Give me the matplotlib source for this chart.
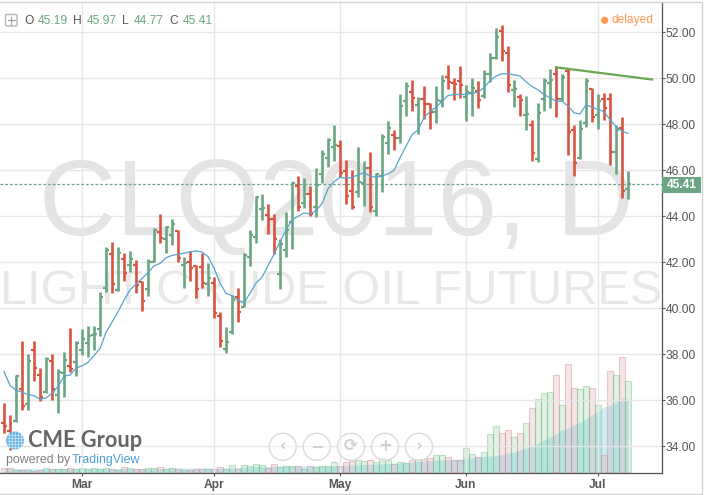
import matplotlib
matplotlib.use('Agg')
import matplotlib.pyplot as plt
from matplotlib.patches import Circle, FancyBboxPatch, Rectangle

plt.rcParams['font.family'] = ['Liberation Sans', 'DejaVu Sans']

# daily bars, CLQ2016
opens = [35.0, 34.65, 35.1, 36.5, 35.85, 38.2, 37.1, 36.35, 37.7, 36.25,
         37.2, 37.5, 37.65, 38.2, 38.5, 38.85, 39.1, 40.9, 42.35, 40.8,
         42.15, 41.9, 41.9, 41.15, 40.85, 42.0, 43.3, 43.0, 43.2, 43.35,
         41.9, 42.0, 41.85, 41.8, 41.05, 41.1, 39.65, 38.25, 38.95, 40.5,
         40.05, 42.25, 43.1, 44.3, 44.05, 43.9, 41.5, 42.55, 43.75, 45.3,
         44.6, 44.95, 44.4, 45.85, 46.55, 47.0, 47.05, 45.95, 45.1, 45.05,
         45.45, 46.1, 44.25, 45.75, 47.2, 47.55, 47.4, 49.0, 49.4, 48.85,
         49.1, 48.9, 48.55, 49.0, 50.05, 49.8, 49.9, 49.2, 49.35, 49.45,
         49.25, 50.2, 50.9, 52.05, 51.1, 49.5, 49.2, 48.4, 47.95, 46.5,
         49.1, 49.8, 50.2, 49.1, 50.3, 47.75, 46.55, 48.05, 49.55, 48.4,
         49.1, 49.1, 46.8, 47.85, 45.19]
highs = [35.87, 35.35, 37.1, 38.6, 38.0, 38.6, 37.4, 37.9, 38.0, 37.35,
         38.1, 39.15, 38.6, 39.1, 39.25, 39.25, 40.7, 42.65, 42.9, 42.65,
         42.4, 42.5, 42.1, 41.2, 42.15, 43.5, 44.1, 43.6, 43.9, 43.4,
         42.25, 42.5, 41.9, 42.4, 41.95, 41.35, 39.85, 39.2, 40.6, 40.9,
         42.4, 43.4, 44.9, 44.95, 44.55, 44.1, 43.0, 44.2, 45.5, 45.75,
         45.65, 45.3, 46.1, 46.9, 47.4, 47.95, 47.3, 46.45, 46.0, 47.0,
         46.4, 46.8, 45.9, 47.6, 48.15, 47.75, 49.3, 49.85, 49.95, 49.2,
         49.65, 48.95, 49.65, 50.15, 50.6, 50.0, 50.55, 49.7, 50.0, 49.9,
         50.35, 51.1, 52.2, 52.3, 51.4, 49.95, 49.3, 49.25, 48.2, 48.95,
         50.0, 50.4, 50.55, 50.2, 50.45, 47.95, 48.2, 50.0, 49.6, 49.3,
         49.35, 49.35, 47.95, 48.3, 45.97]
lows = [34.6, 33.85, 35.05, 35.6, 35.6, 36.85, 35.95, 36.3, 36.0, 35.45,
        36.15, 37.25, 37.05, 37.95, 37.9, 38.2, 38.8, 40.7, 40.65, 40.75,
        41.2, 41.6, 40.65, 39.9, 40.55, 42.0, 42.85, 42.4, 42.75, 42.0,
        40.9, 41.2, 40.45, 40.9, 40.55, 39.6, 38.3, 38.05, 38.9, 39.4,
        40.05, 41.85, 42.85, 43.85, 43.25, 42.35, 40.85, 42.25, 42.6, 44.25,
        44.35, 44.0, 43.95, 45.45, 46.15, 46.4, 45.7, 44.55, 44.3, 44.85,
        44.45, 44.2, 44.0, 45.05, 46.7, 46.9, 47.2, 48.35, 48.6, 47.6,
        48.25, 47.8, 48.05, 48.75, 49.55, 49.05, 49.15, 48.15, 48.35, 48.7,
        49.15, 49.85, 50.85, 50.75, 49.4, 48.75, 48.35, 47.75, 46.4, 46.35,
        48.6, 48.7, 48.3, 49.0, 46.65, 45.75, 46.5, 47.9, 48.1, 47.8,
        48.2, 46.25, 45.85, 44.8, 44.77]
closes = [34.9, 34.05, 37.05, 35.75, 37.7, 37.4, 36.15, 37.8, 36.5, 37.25,
          37.75, 37.35, 38.5, 38.65, 38.8, 38.9, 40.5, 42.55, 41.05, 42.4,
          41.55, 42.15, 41.0, 40.3, 42.0, 43.4, 43.05, 43.55, 43.65, 42.2,
          41.95, 41.75, 40.85, 41.1, 41.3, 39.8, 38.6, 38.55, 40.35, 39.85,
          42.3, 43.2, 44.85, 44.35, 43.9, 43.0, 42.8, 43.4, 45.45, 44.4,
          44.95, 44.1, 45.35, 46.7, 47.3, 47.1, 45.9, 44.9, 44.4, 45.5,
          46.1, 44.4, 45.85, 47.45, 47.85, 47.4, 48.8, 49.65, 49.15, 49.1,
          48.9, 48.55, 49.05, 49.9, 49.85, 49.75, 49.7, 49.4, 49.6, 49.05,
          50.2, 50.9, 51.8, 51.2, 49.7, 49.55, 49.05, 48.45, 46.75, 48.5,
          49.9, 49.95, 49.1, 50.05, 47.65, 46.3, 47.8, 49.9, 48.3, 49.0,
          48.7, 46.8, 47.75, 45.1, 45.41]
ma_line = [37.25, 36.65, 36.45, 36.35, 36.25, 36.2, 36.05, 36.1, 36.3, 36.6,
           37.05, 37.1, 37.4, 37.5, 37.65, 37.95, 38.25, 38.95, 39.4, 39.85,
           40.35, 40.8, 41.05, 41.3, 41.55, 41.85, 41.95, 42.2, 42.3, 42.35,
           42.4, 42.45, 42.5, 42.45, 42.25, 41.75, 41.1, 40.65, 40.55, 40.35,
           40.25, 40.65, 41.1, 41.35, 41.85, 42.35, 42.9, 43.4, 43.85, 44.0,
           44.15, 44.1, 44.25, 44.55, 45.2, 45.5, 45.7, 45.65, 45.7, 45.8,
           45.9, 45.75, 45.7, 45.75, 45.85, 46.0, 46.55, 47.05, 47.55, 47.75,
           48.3, 48.55, 48.75, 49.0, 49.25, 49.3, 49.3, 49.3, 49.35, 49.4,
           49.6, 49.9, 50.1, 50.2, 50.2, 50.15, 50.1, 49.85, 49.65, 49.5,
           49.3, 49.15, 49.0, 49.0, 48.8, 48.5, 48.45, 48.85, 48.75, 48.65,
           48.55, 48.2, 47.9, 47.7, 47.6]
volume = [4.5, 4, 2.5, 2.5, 2.5, 1.5, 2.5, 4.5, 3, 3,
          3, 4.5, 3, 4.5, 3, 4.5, 3, 4.5, 3, 2.5,
          5.5, 4.5, 3, 3, 4.5, 4.5, 5.5, 3, 4.5, 3,
          2.5, 2, 3, 3, 3, 3, 5.5, 3.5, 7, 3.5,
          7.5, 6, 8.5, 7, 4.5, 8.5, 5.5, 6, 6.5, 6.5,
          3.5, 6.5, 5.5, 6.5, 6.5, 10.5, 6, 10.5, 11, 12.5,
          11.5, 12.5, 10.5, 14.5, 12.5, 8.5, 10.5, 9.5, 12.5, 13.5,
          13.5, 14.5, 17.5, 17.5, 15.5, 12.5, 12.5, 24.5, 18.5, 15.5,
          20.5, 38.5, 46.5, 39.5, 42.5, 35.5, 39.5, 49.5, 64.5, 73.5,
          79.5, 80.5, 97.5, 67.5, 108.5, 84.5, 83.5, 86.5, 84.5, 67.5,
          17.5, 101.5, 97.5, 115.5, 91.5]
volume_ma = [3.5, 3.5, 3.5, 3.5, 3.5, 3.5, 3.5, 3.5, 3.5, 3.5,
             3.5, 3.5, 3.5, 3.5, 3.5, 3.5, 3.5, 3.5, 3.5, 3.5,
             3.5, 3.5, 3.5, 3.5, 3.5, 3.5, 3.5, 4, 4, 4,
             4, 4, 4, 4, 4, 4, 4, 4, 4, 4.5,
             5, 5, 5.5, 5.5, 5.5, 5.5, 6, 6, 6, 6,
             6, 6, 6, 6, 6, 6, 6.5, 6.5, 7, 7,
             7.5, 7.5, 8, 8, 8.5, 9, 9, 9.5, 10, 10.5,
             11, 11.5, 12, 12, 12.5, 12.5, 13, 13.5, 14.5, 15,
             15.5, 16, 16.5, 17.5, 19, 20, 22, 24, 26, 29,
             32, 35, 38, 42, 44, 47, 50, 53, 57, 61,
             65, 67, 70, 74, 73]

trend_x = [92, 108]
trend_y = [50.48, 49.95]

month_pos = [13, 35, 56, 77, 99]
month_names = ['Mar', 'Apr', 'May', 'Jun', 'Jul']
price_ticks = [34, 36, 38, 40, 42, 44, 46, 48, 50, 52]
last_price = 45.41

UP = '#6ba583'
DOWN = '#d75442'
TEXT = '#555555'
GRID = '#e6e6e6'
FS = 8.64  # 12px

fig = plt.figure(figsize=(7.04, 4.95), dpi=100)
fig.patch.set_facecolor('white')

ax = fig.add_axes([0, 22 / 495, 661.5 / 704, 471 / 495])
ax.set_zorder(2)
ax.patch.set_visible(False)
ax.set_xlim(-0.667, 109.58)
ax.set_ylim(32.84, 53.32)

# watermark behind everything
fig.text(336 / 704, 1 - 207 / 495, 'CLQ2016, D', fontsize=77, color='#e4e4e4',
         ha='center', va='center', zorder=-1)
fig.text(331 / 704, 1 - 292 / 495, 'LIGHT CRUDE OIL FUTURES', fontsize=35,
         color='#e8e8e8', ha='center', va='center', zorder=-1)

idx = list(range(len(closes)))
colors = [UP if c >= o else DOWN for o, c in zip(opens, closes)]

# volume pane on its own scale
vol_ax = ax.twinx()
vol_ax.set_zorder(1)
vol_ax.patch.set_visible(False)
vol_ax.set_ylim(-1, 470)
vol_ax.axis('off')
vol_ax.fill_between(idx, volume_ma, 0, color='#a9e2f5', alpha=0.6, lw=0)
for i in idx:
    rgb = (0.42, 0.74, 0.48) if colors[i] == UP else (0.80, 0.52, 0.54)
    vol_ax.bar(i, volume[i], width=1.0, facecolor=rgb + (0.2,), edgecolor=rgb + (0.4,), linewidth=0.8)

ax.grid(True, color=GRID, linewidth=1.0)
ax.set_axisbelow(True)

# ohlc bars
ax.vlines(idx, lows, highs, colors=colors, linewidth=1.9, capstyle='butt', zorder=3)
ax.hlines(opens, [i - 0.5 for i in idx], idx, colors=colors, linewidth=1.6, zorder=3)
ax.hlines(closes, idx, [i + 0.5 for i in idx], colors=colors, linewidth=1.6, zorder=3)

ax.plot(idx, ma_line, color='#5aa3cc', linewidth=0.9, zorder=4)
ax.plot(trend_x, trend_y, color='#6aa84f', linewidth=1.6, zorder=5)
ax.axhline(last_price, color=UP, linewidth=0.9, linestyle=(0, (2.2, 1.6)), zorder=2)

ax.yaxis.tick_right()
ax.set_yticks(price_ticks)
ax.set_yticklabels(['%.2f' % p for p in price_ticks], fontsize=FS, color=TEXT)
ax.set_xticks(month_pos)
ax.set_xticklabels(month_names, fontsize=FS, color=TEXT, fontweight='bold')
ax.tick_params(axis='y', length=2, width=0.8, color=TEXT, pad=1.2)
ax.tick_params(axis='x', length=2, width=0.8, color=TEXT, pad=2)
for side in ['top', 'left']:
    ax.spines[side].set_visible(False)
for side in ['right', 'bottom']:
    ax.spines[side].set_color(TEXT)
    ax.spines[side].set_linewidth(0.9)

# overlay in image pixels: header, logo, buttons, frame
top = fig.add_axes([0, 0, 1, 1])
top.set_zorder(5)
top.set_xlim(0, 704)
top.set_ylim(495, 0)
top.axis('off')

top.plot([0, 701.5, 701.5, 0], [1.5, 1.5, 493.5, 493.5], color='#d2d2d6', linewidth=1.0)

# legend row
top.add_patch(FancyBboxPatch((6, 15), 10.5, 10.5, boxstyle='round,pad=0.5,rounding_size=1.5',
                             fc='white', ec='#b5b5b5', lw=1.0))
top.plot([8, 15], [20.3, 20.3], color='#a0a0a0', lw=0.8)
top.plot([11.3, 11.3], [16.5, 24.5], color='#a0a0a0', lw=0.8)
legend_items = [(24, 'O', TEXT), (38, '45.19', UP), (73, 'H', TEXT), (87, '45.97', UP),
                (122, 'L', TEXT), (134, '44.77', UP), (169, 'C', TEXT), (183, '45.41', UP)]
for lx, label, col in legend_items:
    top.text(lx, 20.5, label, fontsize=FS, color=col, ha='left', va='center')

top.add_patch(Circle((604.7, 20.3), 3.6, fc='#ff9950', ec='none'))
top.text(612, 20.3, 'delayed', fontsize=FS, color='#ff9950', ha='left', va='center')

# last price label
top.add_patch(Rectangle((661.5, 177), 39, 16, fc=UP, ec='none'))
top.text(667, 185.3, '45.41', fontsize=FS, color='white', fontweight='bold', ha='left', va='center')

# logo
top.add_patch(Circle((15, 440.5), 9, fc='#6db6e3', ec='none'))
for off in [-6, -3, 0, 3, 6]:
    top.plot([6.5, 23.5], [440.5 + off, 440.5 + off], color='white', lw=0.4, alpha=0.8)
    top.plot([15 + off, 15 + off], [432, 449], color='white', lw=0.4, alpha=0.8)
top.text(27.5, 440.5, 'CME Group', fontsize=15.7, color='#666666', ha='left', va='center',
         family=['Lato'], fontweight='bold')
top.text(6, 459.5, 'powered by', fontsize=8.9, color='#808080', ha='left', va='center')
top.text(72, 459.5, 'TradingView', fontsize=8.9, color='#4a9fd6', ha='left', va='center')

# zoom / scroll buttons
btn_x = [282.7, 316.8, 351, 385, 419]
btn_glyph = ['\u2039', '\u2212', '\u27f3', '+', '\u203a']
for bx, glyph in zip(btn_x, btn_glyph):
    top.add_patch(Circle((bx, 446.8), 13.5, fc=(1, 1, 1, 0.55), ec='#dadada', lw=1.0))
    top.text(bx, 446.3, glyph, fontsize=12, color='#d0d0d0', ha='center', va='center',
             family=['DejaVu Sans'], fontweight='bold')

fig.savefig('out.png', dpi=100)
